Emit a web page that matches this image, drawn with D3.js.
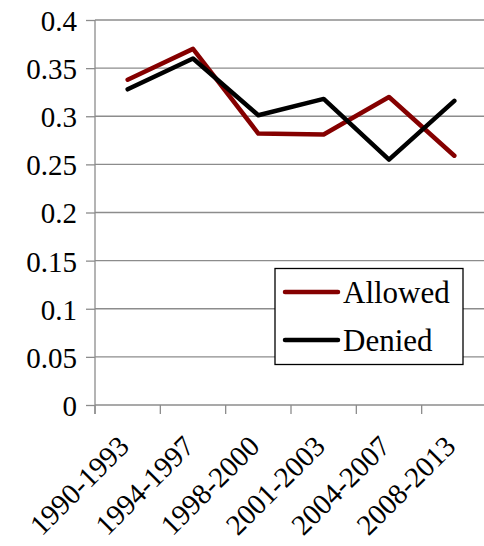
<!DOCTYPE html>
<html><head><meta charset="utf-8"><script src="https://cdn.jsdelivr.net/npm/d3@7"></script></head>
<body style="margin:0">
<svg id="s" width="484" height="546"></svg>
<script>
// Period categories along the x axis
const periods = ["1990-1993", "1994-1997", "1998-2000", "2001-2003", "2004-2007", "2008-2013"];
// Share per period for each outcome
const allowed = [0.338, 0.370, 0.282, 0.281, 0.320, 0.259];
const denied  = [0.328, 0.360, 0.301, 0.318, 0.255, 0.316];
// Y axis tick values
const yTicks = [0, 0.05, 0.1, 0.15, 0.2, 0.25, 0.3, 0.35, 0.4];

const seriesNames = ["Allowed", "Denied"];
const seriesColors = ["#850000", "#000000"];
const seriesValues = [allowed, denied];

const SERIF = "'Liberation Serif'";
const setFont = sel => sel.attr("font-family", SERIF).style("font-family", SERIF, "important");

const svg = d3.select("#s");
setFont(svg);
const plotLeft = 95, plotRight = 487, plotTop = 20, plotBottom = 405;
const gridColor = "#8c8c8c";

const x = d3.scaleBand().domain(periods).range([plotLeft, plotRight]).padding(0);
const y = d3.scaleLinear().domain([0, 0.4]).range([plotBottom, plotTop]);

// Horizontal gridlines
svg.append("g")
  .selectAll("line")
  .data(yTicks.filter(d => d > 0))
  .join("line")
  .attr("x1", plotLeft).attr("x2", plotRight)
  .attr("y1", d => y(d)).attr("y2", d => y(d))
  .attr("stroke", gridColor).attr("stroke-width", 1.3);

// Y axis
const yAxis = svg.append("g")
  .attr("transform", `translate(${plotLeft},0)`)
  .call(d3.axisLeft(y).tickValues(yTicks).tickSize(9).tickPadding(9)
    .tickFormat(d => String(+d.toFixed(2))));
setFont(yAxis.attr("font-size", 29));
yAxis.select(".domain").attr("stroke", gridColor).attr("stroke-width", 1.3)
  .attr("d", `M0,${plotTop}V${plotBottom + 9}`);
yAxis.selectAll(".tick line").attr("stroke", gridColor).attr("stroke-width", 1.3);
setFont(yAxis.selectAll(".tick text")
  .attr("font-size", 29)
  .attr("fill", "#000")
  .attr("dy", "0.36em"));

// X axis: ticks at band boundaries
const xAxisG = svg.append("g").attr("transform", `translate(0,${plotBottom})`);
xAxisG.append("line")
  .attr("x1", plotLeft).attr("x2", plotRight).attr("y1", 0).attr("y2", 0)
  .attr("stroke", gridColor).attr("stroke-width", 1.3);
xAxisG.selectAll("line.tk")
  .data(periods)
  .join("line").attr("class", "tk")
  .attr("x1", d => x(d)).attr("x2", d => x(d))
  .attr("y1", 0).attr("y2", 9)
  .attr("stroke", gridColor).attr("stroke-width", 1.3);

// Rotated category labels
setFont(xAxisG.selectAll("text")
  .data(periods)
  .join("text")
  .attr("transform", d => `translate(${x(d) + x.bandwidth() / 2 + 3},${43}) rotate(-45)`)
  .attr("text-anchor", "end")
  .attr("font-size", 29)
  .attr("fill", "#000")
  .text(d => d));

// Series lines
const line = d3.line()
  .x((d, i) => x(periods[i]) + x.bandwidth() / 2)
  .y(d => y(d));

svg.append("g")
  .selectAll("path")
  .data(seriesValues)
  .join("path")
  .attr("d", d => line(d))
  .attr("fill", "none")
  .attr("stroke", (d, i) => seriesColors[i])
  .attr("stroke-width", 4.5)
  .attr("stroke-linejoin", "round")
  .attr("stroke-linecap", "round");

// Legend
const legend = svg.append("g");
legend.append("rect")
  .attr("x", 275).attr("y", 268.5).attr("width", 188).attr("height", 96)
  .attr("fill", "#fff").attr("stroke", "#000").attr("stroke-width", 1.3);
const items = legend.selectAll("g.item")
  .data(seriesNames)
  .join("g").attr("class", "item")
  .attr("transform", (d, i) => `translate(0,${292 + i * 48})`);
items.append("line")
  .attr("x1", 285).attr("x2", 338).attr("y1", 0).attr("y2", 0)
  .attr("stroke", (d, i) => seriesColors[i])
  .attr("stroke-width", 4.5).attr("stroke-linecap", "round");
setFont(items.append("text")
  .attr("x", 343).attr("y", 11)
  .attr("font-size", 31)
  .attr("fill", "#000")
  .text(d => d));
</script>
</body></html>
